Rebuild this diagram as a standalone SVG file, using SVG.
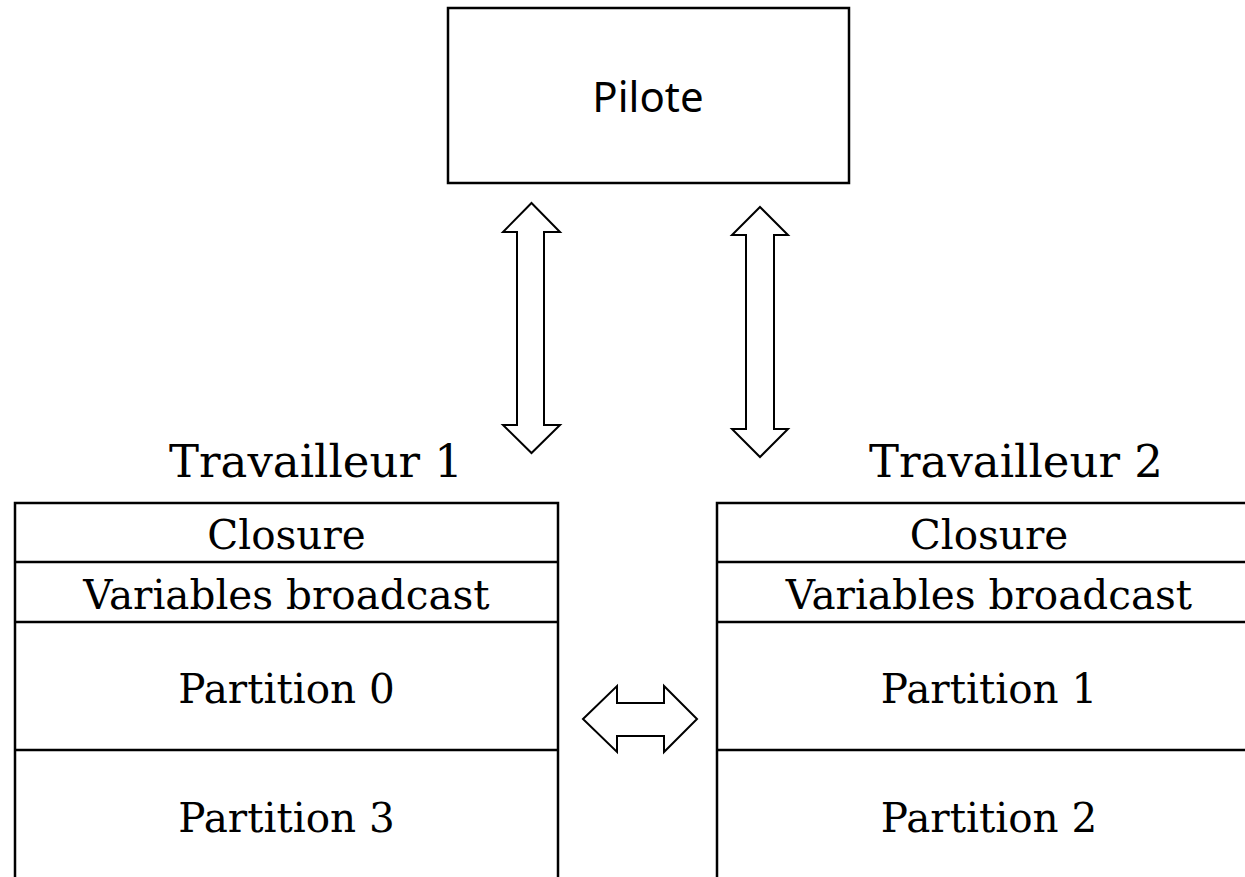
<svg xmlns="http://www.w3.org/2000/svg" width="1245" height="877" viewBox="0 0 1245 877">
<style>
.box{fill:#fff;stroke:#000;stroke-width:2.5}
.line{stroke:#000;stroke-width:2.5}
.arrow{fill:#fff;stroke:#000;stroke-width:2;stroke-linejoin:miter}
.sans{font-family:"Noto Sans","Open Sans",sans-serif;font-size:42px;fill:#000;text-anchor:middle}
.serif{font-family:"DejaVu Serif","Liberation Serif",serif;font-size:40.5px;fill:#000;text-anchor:middle}
.title{font-family:"DejaVu Serif","Liberation Serif",serif;font-size:45px;fill:#000;text-anchor:middle}
</style>
<rect width="1245" height="877" fill="#fff"/>
<g id="pilote">
<rect class="box" x="448" y="8" width="401" height="175"/>
<text class="sans" x="648" y="112">Pilote</text>
</g>
<g id="travailleur1">
<text class="title" x="316" y="477">Travailleur 1</text>
<rect class="box" x="15" y="503" width="543" height="390"/>
<line class="line" x1="15" y1="562" x2="558" y2="562"/>
<line class="line" x1="15" y1="622" x2="558" y2="622"/>
<line class="line" x1="15" y1="750" x2="558" y2="750"/>
<text class="serif" x="286.5" y="549">Closure</text>
<text class="serif" x="286.5" y="609">Variables broadcast</text>
<text class="serif" x="286.5" y="703">Partition 0</text>
<text class="serif" x="286.5" y="832">Partition 3</text>
</g>
<g id="travailleur2">
<text class="title" x="1016" y="477">Travailleur 2</text>
<rect class="box" x="717" y="503" width="544" height="390"/>
<line class="line" x1="717" y1="562" x2="1261" y2="562"/>
<line class="line" x1="717" y1="622" x2="1261" y2="622"/>
<line class="line" x1="717" y1="750" x2="1261" y2="750"/>
<text class="serif" x="989" y="549">Closure</text>
<text class="serif" x="989" y="609">Variables broadcast</text>
<text class="serif" x="989" y="703">Partition 1</text>
<text class="serif" x="989" y="832">Partition 2</text>
</g>
<g id="connectors">
<polygon class="arrow" points="531.5,203 560,232 544,232 544,425 560,425 531.5,453 503,425 517,425 517,232 503,232"/>
<polygon class="arrow" points="760,207 788,235 774,235 774,429 788,429 760,457 732,429 746,429 746,235 732,235"/>
<polygon class="arrow" points="583,719 617,686 617,703 664,703 664,686 697,719 664,752 664,736 617,736 617,752"/>
</g>
</svg>
